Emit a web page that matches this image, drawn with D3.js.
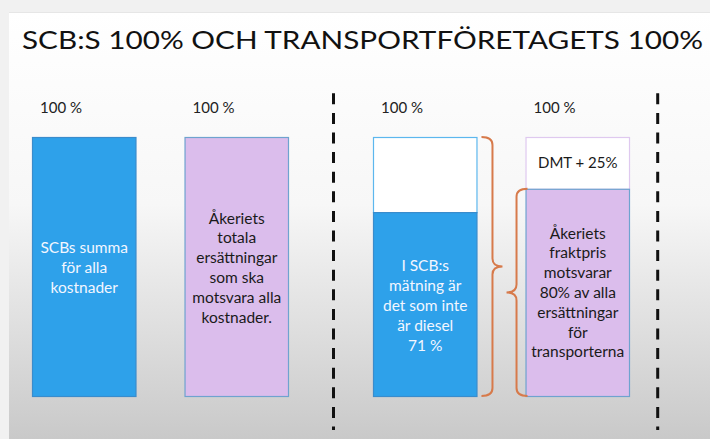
<!DOCTYPE html>
<html lang="sv">
<head>
  <meta charset="utf-8">
  <title>SCB:s 100% och transportföretagets 100%</title>
  <script src="https://d3js.org/d3.v7.min.js"></script>
  <style>
    body { margin: 0; background: #f1f1f1; }
    svg { display: block; font-family: "Lato", "Noto Sans", sans-serif; }
  </style>
</head>
<body>
  <div id="chart"></div>
  <script>
    "use strict"

    // --- data ---
    var grupper = ["SCB", "Transport"];
    var staplar = ["scb", "akeri", "scbDel", "akeriDel"];
    var stapelGrupp = ["SCB", "SCB", "Transport", "Transport"];
    var totalVarde = [100, 100, 100, 100];
    var fylltVarde = [100, 100, 71, 80];
    var etiketter = ["100 %", "100 %", "100 %", "100 %"];
    var innerText = [
      ["SCBs summa", "för alla", "kostnader"],
      ["Åkeriets", "totala", "ersättningar", "som ska", "motsvara alla", "kostnader."],
      ["I SCB:s", "mätning är", "det som inte", "är diesel", "71 %"],
      ["Åkeriets", "fraktpris", "motsvarar", "80% av alla", "ersättningar", "för", "transporterna"]
    ];
    var toppText = ["", "", "", "DMT + 25%"];
    var fargTyp = ["bla", "lila", "bla", "lila"];

    var bredd = 710, hojd = 439;

    var svg = d3.select("#chart").append("svg")
      .attr("width", bredd).attr("height", hojd);

    // bakgrund
    var defs = svg.append("defs");
    var grad = defs.append("linearGradient").attr("id", "bg")
      .attr("x1", 0).attr("y1", 0).attr("x2", 0).attr("y2", 1);
    grad.append("stop").attr("offset", "0%").attr("stop-color", "#ffffff");
    grad.append("stop").attr("offset", "45%").attr("stop-color", "#f7f7f7");
    grad.append("stop").attr("offset", "100%").attr("stop-color", "#c9c9c9");

    svg.append("rect").attr("width", bredd).attr("height", hojd).attr("fill", "#f1f1f1");
    svg.append("rect").attr("x", 9).attr("y", 12).attr("width", bredd - 9).attr("height", hojd - 12)
      .attr("fill", "url(#bg)");
    svg.append("line").attr("x1", 9).attr("x2", bredd).attr("y1", 12.5).attr("y2", 12.5)
      .attr("stroke", "#e6e6e6");

    svg.append("text")
      .attr("x", 22).attr("y", 49)
      .attr("font-size", 25)
      .attr("fill", "#111")
      .attr("textLength", 681)
      .attr("lengthAdjust", "spacingAndGlyphs")
      .text("SCB:S 100% OCH TRANSPORTFÖRETAGETS 100%");

    // --- skalor ---
    var x0 = d3.scaleBand().domain(grupper).range([22, 704]);
    var x1 = d3.scaleBand().domain([0, 1]).range([10, 267]).paddingInner(0.315);
    var y = d3.scaleLinear().domain([0, 100]).range([396, 137]);

    function xPos(i) { return x0(stapelGrupp[i]) + x1(i % 2); }
    var bw = x1.bandwidth();

    var farger = {
      bla: { fill: "#2ea1ea", kant: "#3a8ccc", tom: "#5cb7ee", text: "#f3f6ff" },
      lila: { fill: "#dbbdec", kant: "#6fa3cf", tom: "#dfc9ef", text: "#1a1a1a" }
    };

    var idx = d3.range(staplar.length);
    var g = svg.selectAll("g.stapel").data(idx).enter().append("g").attr("class", "stapel");

    // tom del (över fylld)
    g.filter(function(i) { return fylltVarde[i] < totalVarde[i]; })
      .append("rect")
      .attr("x", function(i) { return xPos(i) + 0.5; })
      .attr("y", function(i) { return y(totalVarde[i]) + 0.5; })
      .attr("width", bw - 1)
      .attr("height", function(i) { return y(fylltVarde[i]) - y(totalVarde[i]); })
      .attr("fill", "#ffffff")
      .attr("stroke", function(i) { return farger[fargTyp[i]].tom; })
      .attr("stroke-width", 1.2);

    g.append("rect")
      .attr("x", function(i) { return xPos(i) + 0.5; })
      .attr("y", function(i) { return y(fylltVarde[i]) + 0.5; })
      .attr("width", bw - 1)
      .attr("height", function(i) { return y(0) - y(fylltVarde[i]); })
      .attr("fill", function(i) { return farger[fargTyp[i]].fill; })
      .attr("stroke", function(i) { return farger[fargTyp[i]].kant; })
      .attr("stroke-width", 1.2);

    g.append("text")
      .attr("x", function(i) { return xPos(i) + 8; })
      .attr("y", 113)
      .attr("font-size", 15)
      .attr("fill", "#222")
      .text(function(i) { return etiketter[i]; });

    g.append("text")
      .attr("x", function(i) { return xPos(i) + bw / 2; })
      .attr("y", function(i) { return (y(totalVarde[i]) + y(fylltVarde[i])) / 2 + 5; })
      .attr("text-anchor", "middle")
      .attr("font-size", 15)
      .attr("fill", "#1a1a1a")
      .text(function(i) { return toppText[i]; });

    // text i staplarna
    var radAvstand = 19.8;
    var textMitt = [268, 268, 306, 293];
    g.append("text")
      .attr("text-anchor", "middle")
      .attr("font-size", 15.5)
      .attr("fill", function(i) { return farger[fargTyp[i]].text; })
      .each(function(i) {
        var rader = innerText[i];
        var start = textMitt[i] - (rader.length - 1) * radAvstand / 2;
        d3.select(this).selectAll("tspan").data(rader).enter().append("tspan")
          .attr("x", xPos(i) + bw / 2)
          .attr("y", function(d, k) { return start + k * radAvstand + 5; })
          .text(function(d) { return d; });
      });

    // klamrar
    function klammer(xv, topp, botten, riktning) {
      // riktning 1 = pekar åt höger, -1 = åt vänster
      var mitt = (topp + botten) / 2, r = 8, spets = 10 * riktning, krok = -11 * riktning;
      var p = d3.path();
      p.moveTo(xv + krok, topp);
      p.quadraticCurveTo(xv, topp, xv, topp + r);
      p.lineTo(xv, mitt - r);
      p.quadraticCurveTo(xv, mitt, xv + spets, mitt);
      p.quadraticCurveTo(xv, mitt, xv, mitt + r);
      p.lineTo(xv, botten - r);
      p.quadraticCurveTo(xv, botten, xv + krok, botten);
      return p.toString();
    }
    svg.append("path")
      .attr("d", klammer(xPos(2) + bw + 15, y(totalVarde[2]), y(0), 1))
      .attr("fill", "none").attr("stroke", "#d77a4b").attr("stroke-width", 2);
    svg.append("path")
      .attr("d", klammer(xPos(3) - 9, y(fylltVarde[3]), y(0), -1))
      .attr("fill", "none").attr("stroke", "#d77a4b").attr("stroke-width", 2);

    // streckade avdelare
    var avdelare = [333.5, 657.7];
    svg.selectAll("line.avd").data(avdelare).enter().append("line")
      .attr("class", "avd")
      .attr("x1", function(d) { return d; }).attr("x2", function(d) { return d; })
      .attr("y1", 93.3).attr("y2", 430)
      .attr("stroke", "#111").attr("stroke-width", 3)
      .attr("stroke-dasharray", "11,8.6");
  </script>
</body>
</html>
